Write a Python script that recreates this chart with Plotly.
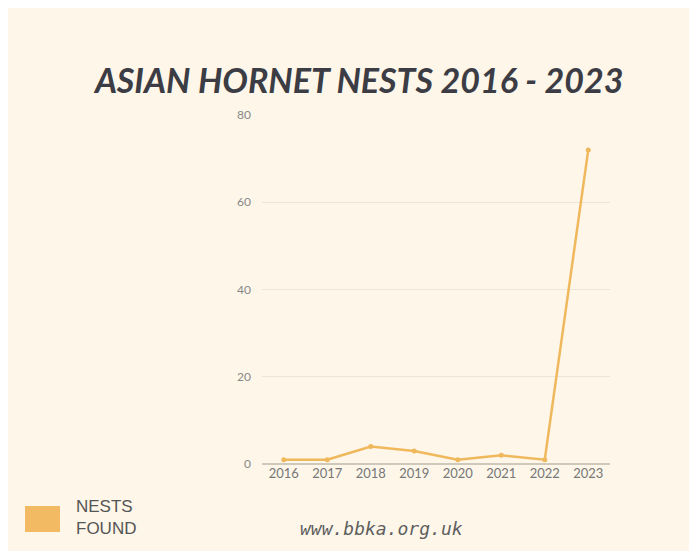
import plotly.graph_objects as go

years = ["2016", "2017", "2018", "2019", "2020", "2021", "2022", "2023"]
nests = [1, 1, 4, 3, 1, 2, 1, 72]
y_ticks = [0, 20, 40, 60, 80]

OFF = 8  # page body margin
W, H = 697 - OFF, 551 - OFF
L, R, T, B = 262 - OFF, 87, 115 - OFF, 87
pw, ph = W - L - R, H - T - B

def px(x):
    return (x - OFF - L) / pw

def py(y):
    return (H - B - (y - OFF)) / ph

line_color = "#f0b85c"
cream = "#fdf6e9"

fig = go.Figure()
fig.add_trace(go.Scatter(
    x=years, y=nests, mode="lines+markers",
    line=dict(color=line_color, width=2.5),
    marker=dict(color=line_color, size=5),
    showlegend=False, hoverinfo="x+y",
))

shapes = [
    dict(type="rect", xref="paper", yref="paper",
         x0=px(25), x1=px(60), y0=py(532), y1=py(506),
         fillcolor="#f2ba62", line=dict(width=0)),
]

annotations = [
    dict(text="<b><i>ASIAN HORNET NESTS 2016 - 2023</i></b>", xref="paper", yref="paper",
         x=px(358), y=py(79), xanchor="center", yanchor="middle", showarrow=False,
         font=dict(family="Lato", size=34, color="#3c3c44")),
    dict(text="NESTS<br>FOUND", xref="paper", yref="paper", align="left",
         x=px(74), y=py(517), xanchor="left", yanchor="middle", showarrow=False,
         font=dict(family="Liberation Sans Narrow, Liberation Sans", size=17, color="#555555")),
    dict(text="<i>www.bbka.org.uk</i>", xref="paper", yref="paper",
         x=px(381), y=py(528), xanchor="center", yanchor="middle", showarrow=False,
         font=dict(family="DejaVu Sans Mono", size=18, color="#5e5e5e")),
]

fig.update_layout(
    width=W, height=H,
    margin=dict(l=L, r=R, t=T, b=B),
    paper_bgcolor=cream, plot_bgcolor=cream,
    shapes=shapes, annotations=annotations,
    xaxis=dict(type="category", range=[-0.5, 7.5], showgrid=False, zeroline=False,
               showline=False, ticks="", tickfont=dict(family="Lato", size=13, color="#777777")),
    yaxis=dict(range=[0, 80], tickvals=y_ticks, gridcolor="#ece6d8", gridwidth=1,
               zeroline=True, zerolinecolor="#cfc9bc", zerolinewidth=1.5,
               ticks="", ticklabelstandoff=10,
               tickfont=dict(family="Lato", size=12, color="#888888")),
)

fig.write_html("out.html")
